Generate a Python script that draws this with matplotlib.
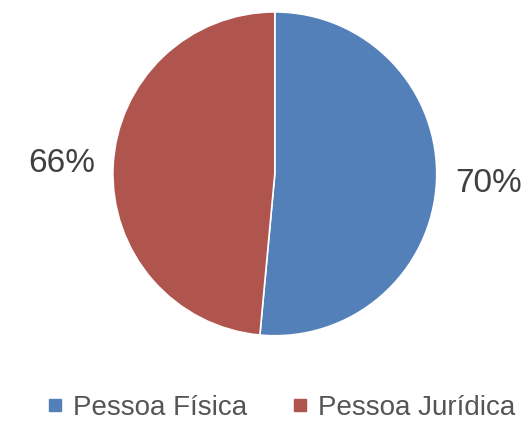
import matplotlib.pyplot as plt
from matplotlib.lines import Line2D

categories = ['Pessoa Física', 'Pessoa Jurídica']
values = [70, 66]
labels = ['70%', '66%']
colors = ['#5480BA', '#B0544E']

plt.rcParams['font.family'] = ['Liberation Sans', 'DejaVu Sans']

fig = plt.figure(figsize=(5.3, 4.24), dpi=100)
ax = fig.add_axes([0.213, 0.208, 0.611, 0.764])

wedges, texts = ax.pie(values, labels=labels, colors=colors, startangle=90,
                       counterclock=False, labeldistance=1.32,
                       wedgeprops=dict(edgecolor='white', linewidth=1.2),
                       textprops=dict(fontsize=24, color='#404040'))
for t in texts:
    t.set_ha('center')
    t.set_va('center')
ax.set_xlim(-1, 1)
ax.set_ylim(-1, 1)
ax.set_aspect('equal')

handles = [Line2D([], [], marker='s', linestyle='none', markersize=8.5,
                  markerfacecolor=c, markeredgecolor=c) for c in colors]
fig.legend(handles, categories, loc='center', bbox_to_anchor=(0.53, 0.038),
           ncol=2, frameon=False, fontsize=20, labelcolor='#555555',
           handlelength=0.6, handletextpad=0.35, columnspacing=1.6)

fig.savefig('out.png', dpi=100)
